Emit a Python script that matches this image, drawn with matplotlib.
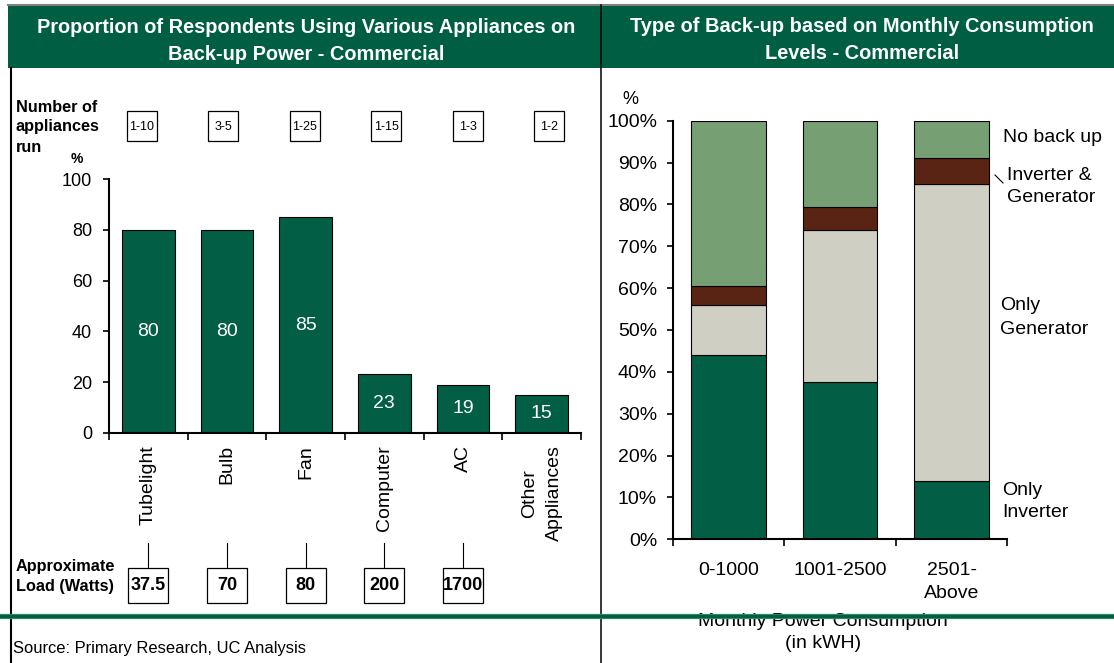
import matplotlib
matplotlib.use('Agg')
import matplotlib.pyplot as plt
import numpy as np
from matplotlib.lines import Line2D
from matplotlib.patches import Rectangle
from matplotlib.transforms import Affine2D, blended_transform_factory

plt.rcParams['font.family'] = ['Liberation Sans', 'DejaVu Sans']

# left chart data
appliances = ['Tubelight', 'Bulb', 'Fan', 'Computer', 'AC', 'Other\nAppliances']
usage_pct = [80, 80, 85, 23, 19, 15]
num_run = ['1-10', '3-5', '1-25', '1-15', '1-3', '1-2']
load_watts = ['37.5', '70', '80', '200', '1700']

# right chart data (% of respondents)
consumption_levels = ['0-1000', '1001-2500', '2501-\nAbove']
only_inverter = [44.0, 37.5, 14.0]
only_generator = [12.0, 36.5, 70.8]
inverter_generator = [4.6, 5.3, 6.4]
no_backup = [39.4, 20.7, 8.8]

DARK_GREEN = '#025e44'
LIGHT_GREEN = '#76a074'
BROWN = '#5a2415'
BEIGE = '#d0cfc3'

W, H = 1114, 663
fig = plt.figure(figsize=(W / 100, H / 100), dpi=100)
# transform in figure pixels, origin top-left
FP = Affine2D().scale(1 / W, -1 / H).translate(0, 1) + fig.transFigure


def px_box(left, top, right, bottom):
    return [left / W, 1 - bottom / H, (right - left) / W, (bottom - top) / H]


def style_axes(ax):
    for side in ['top', 'right']:
        ax.spines[side].set_visible(False)
    for side in ['left', 'bottom']:
        ax.spines[side].set_linewidth(1.5)


# frame and header
fig.add_artist(Rectangle((8, 6), W - 8, 62, transform=FP, facecolor='#005e43', edgecolor='none'))
fig.add_artist(Line2D([8, W], [5, 5], transform=FP, color='#808080', lw=1.5))
fig.add_artist(Line2D([601, 601], [5, H], transform=FP, color='black', lw=1.1))
fig.add_artist(Line2D([11, 11], [68, H], transform=FP, color='black', lw=1.5))
fig.text(306, 41, 'Proportion of Respondents Using Various Appliances on\nBack-up Power - Commercial',
         transform=FP, ha='center', va='center', color='white', fontsize=14.4, fontweight='bold', linespacing=1.55)
fig.text(862, 40, 'Type of Back-up based on Monthly Consumption\nLevels - Commercial',
         transform=FP, ha='center', va='center', color='white', fontsize=14.4, fontweight='bold', linespacing=1.55)

# ---- left chart ----
ax1 = fig.add_axes(px_box(109, 179.3, 581, 432.7))
x = np.arange(len(appliances))
ax1.bar(x, usage_pct, width=0.67, color=DARK_GREEN, edgecolor='black', linewidth=0.8)
for xi, v in zip(x, usage_pct):
    ax1.text(xi, v / 2, str(v), ha='center', va='center', color='white', fontsize=14)
ax1.set_xlim(-0.5, len(appliances) - 0.5)
ax1.set_ylim(0, 100)
ax1.set_yticks(range(0, 101, 20))
ax1.set_xticks(x)
ax1.set_xticklabels(appliances, rotation=90)
for lbl in ax1.get_xticklabels():
    lbl.set_linespacing(1.6)
ax1.set_xticks(np.arange(-0.5, len(appliances), 1), minor=True)
ax1.tick_params(axis='y', length=4.3, width=1.2, labelsize=13, pad=8)
ax1.tick_params(axis='x', which='major', length=0, labelsize=14, pad=9)
ax1.tick_params(axis='x', which='minor', length=5, width=1.2)
style_axes(ax1)

unit_px = (581 - 109) / len(appliances)
T1 = blended_transform_factory(ax1.transData, FP)

for y, line in zip([107, 127, 147], ['Number of', 'appliances', 'run']):
    fig.text(16, y, line, transform=FP, ha='left', va='center', fontsize=11.7, fontweight='bold')
fig.text(77, 159, '%', transform=FP, ha='center', va='center', fontsize=10, fontweight='bold')
for i, lab in enumerate(num_run):
    cx = i * 1.035 - 0.08
    bw = 30 / unit_px
    fig.add_artist(Rectangle((cx - bw / 2, 111), bw, 30, transform=T1,
                             facecolor='white', edgecolor='black', lw=0.9))
    fig.text(cx, 126.5, lab, transform=T1, ha='center', va='center', fontsize=9)

fig.text(16, 576.5, 'Approximate\nLoad (Watts)', transform=FP, ha='left', va='center',
         fontsize=11.7, fontweight='bold', linespacing=1.45)
for i, lab in enumerate(load_watts):
    bw = 40 / unit_px
    fig.add_artist(Line2D([i, i], [543, 568], transform=T1, color='black', lw=0.8))
    fig.add_artist(Rectangle((i - bw / 2, 568), bw, 35, transform=T1,
                             facecolor='white', edgecolor='black', lw=0.9))
    fig.text(i, 586, lab, transform=T1, ha='center', va='center', fontsize=13, fontweight='bold')

fig.text(13, 649, 'Source: Primary Research, UC Analysis', transform=FP, ha='left', va='center', fontsize=11.9)

# ---- right chart ----
ax2 = fig.add_axes(px_box(672.7, 120.7, 1007.3, 539.3))
x2 = np.arange(len(consumption_levels))
series = [(only_inverter, DARK_GREEN), (only_generator, BEIGE),
          (inverter_generator, BROWN), (no_backup, LIGHT_GREEN)]
bottom = np.zeros(len(x2))
for vals, col in series:
    ax2.bar(x2, vals, width=0.667, bottom=bottom, color=col, edgecolor='black', linewidth=0.8)
    bottom += np.array(vals)
ax2.set_xlim(-0.5, len(x2) - 0.5)
ax2.set_ylim(0, 100)
ax2.set_yticks(range(0, 101, 10))
ax2.set_yticklabels([f'{v}%' for v in range(0, 101, 10)])
ax2.set_xticks(x2)
ax2.set_xticklabels(consumption_levels)
for lbl in ax2.get_xticklabels():
    lbl.set_linespacing(1.5)
ax2.set_xticks(np.arange(-0.5, len(x2), 1), minor=True)
ax2.tick_params(axis='y', length=4.3, width=1.2, labelsize=14, pad=7)
ax2.tick_params(axis='x', which='major', length=0, labelsize=14, pad=16)
ax2.tick_params(axis='x', which='minor', length=5, width=1.2)
style_axes(ax2)

fig.text(630.7, 99.3, '%', transform=FP, ha='center', va='center', fontsize=13)
fig.text(823, 632.4, 'Monthly Power Consumption\n(in kWH)', transform=FP, ha='center', va='center',
         fontsize=14, linespacing=1.4)
fig.text(1003, 138, 'No back up', transform=FP, ha='left', va='center', fontsize=14)
fig.text(1007, 186.5, 'Inverter &\nGenerator', transform=FP, ha='left', va='center', fontsize=14, linespacing=1.4)
fig.add_artist(Line2D([995, 1003], [175, 183], transform=FP, color='black', lw=0.8))
fig.text(1000, 317.5, 'Only\nGenerator', transform=FP, ha='left', va='center', fontsize=14, linespacing=1.5)
fig.text(1002, 501.5, 'Only\nInverter', transform=FP, ha='left', va='center', fontsize=14, linespacing=1.4)

# green rule drawn over everything
fig.add_artist(Line2D([0, W], [616, 616], transform=FP, color='#3f8f74', lw=3.8, zorder=10))
fig.add_artist(Line2D([0, W], [616, 616], transform=FP, color='#005e43', lw=2.4, zorder=11))

fig.savefig('out.png', dpi=100)
